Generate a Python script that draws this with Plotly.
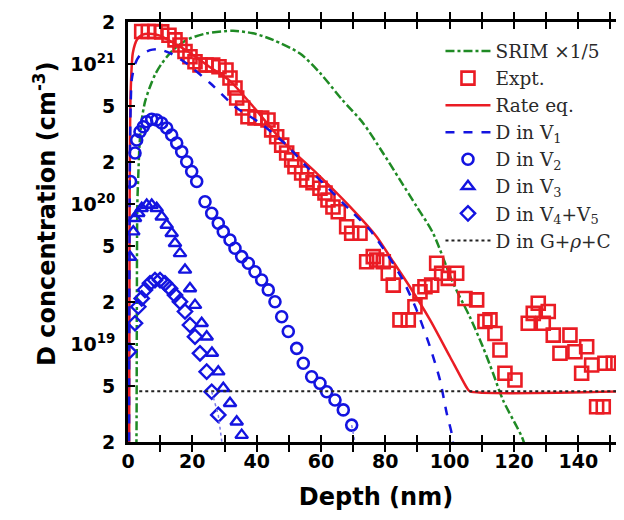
import plotly.graph_objects as go

# ---------------- data ----------------
srim_x = [2.3, 2.6, 2.75, 2.9, 3.2, 3.6, 4.26, 5.3, 6.84, 8.5, 10.48, 13.99, 18.25, 24.46,
          32.64, 38.86, 45.07, 53.47, 59.68, 66.5, 73.05, 79.27, 84.55, 89.84, 94.81,
          101.03, 106.31, 110.35, 113.46, 116.57, 120.92, 122.47, 123.7]
srim_y = [1.0e18, 1.8e18, 2.0e19, 1.0e20, 1.6e20, 2.7e20, 3.99e20, 5.4e20, 6.9e20, 8.5e20,
          1.01e21, 1.26e21, 1.49e21, 1.66e21, 1.73e21, 1.66e21, 1.49e21, 1.19e21, 8.65e20,
          5.6e20, 3.8e20, 2.32e20, 1.49e20, 9.54e19, 6.22e19, 2.74e19, 1.56e19, 9.54e18,
          6.22e18, 3.99e18, 2.56e18, 2.17e18, 1.8e18]

expt_x = [4.26, 6.31, 8.39, 10.48, 12.74, 14.61, 16.16, 17.72, 19.27, 20.83, 22.38, 24.25,
          26.33, 28.29, 30.46, 31.71, 33.26, 33.79, 35.65, 37.30, 39.48, 41.56, 43.52, 44.67,
          46.22, 47.78, 49.33, 50.89, 51.91, 53.99, 55.55, 57.51, 59.68, 61.24, 62.17, 63.72,
          65.37, 67.98, 69.54, 72.12, 74.20, 76.25, 77.31, 79.36, 80.91, 82.47, 84.55, 87.13,
          89.21, 90.77, 92.32, 94.40, 95.96, 97.51, 99.57, 102.18, 104.76, 108.39, 110.97,
          112.53, 114.08, 115.64, 117.19, 120.30, 124.43, 125.99, 127.54, 129.10, 130.65,
          132.21, 134.29, 137.40, 138.95, 141.03, 142.59, 144.14, 145.69, 147.75, 148.27,
          150.86, 153.47]
expt_y = [1.71e21, 1.71e21, 1.71e21, 1.70e21, 1.61e21, 1.49e21, 1.37e21, 1.23e21, 1.13e21,
          1.04e21, 9.86e20, 9.86e20, 9.86e20, 9.59e20, 9.08e20, 7.96e20, 6.76e20, 5.73e20,
          4.86e20, 4.21e20, 4.12e20, 4.12e20, 3.99e20, 3.39e20, 3.03e20, 2.64e20, 2.32e20,
          2.07e20, 1.85e20, 1.67e20, 1.49e20, 1.42e20, 1.30e20, 1.20e20, 1.07e20, 9.54e19,
          8.83e19, 6.9e19, 6.19e19, 6.19e19, 3.88e19, 4.22e19, 3.99e19, 3.88e19, 3.21e19,
          2.64e19, 1.49e19, 1.49e19, 1.85e19, 2.37e19, 2.57e19, 2.64e19, 3.78e19, 3.21e19,
          2.95e19, 3.21e19, 2.12e19, 2.07e19, 1.45e19, 1.49e19, 1.19e19, 9.08e18, 6.19e18,
          5.54e18, 1.41e19, 1.66e19, 1.96e19, 1.41e19, 1.71e19, 1.16e19, 8.6e18, 1.16e19,
          8.83e18, 6.19e18, 9.59e18, 7.1e18, 3.57e18, 3.57e18, 7.3e18, 7.3e18, 7.3e18]

rate_x = [0.35, 0.5, 0.8, 1.5, 2.8, 4.35, 6.8, 9.9, 14.6, 19.3, 25.5, 31.7, 37.9, 48.2,
          58.7, 69.0, 77.3, 81.4, 87.6, 93.9, 100.1, 105.3, 106.3, 154.2]
rate_y = [1.5e18, 1.0e20, 6.0e20, 1.2e21, 1.5e21, 1.62e21, 1.65e21, 1.6e21, 1.4e21,
          1.2e21, 9.5e20, 7.6e20, 5.3e20, 2.79e20, 1.66e20, 9.6e19, 5.85e19, 4.22e19,
          2.57e19, 1.49e19, 8.13e18, 4.9e18, 4.6e18, 4.6e18]

v1_x = [0.31, 0.62, 1.15, 2.18, 3.73, 6.84, 9.33, 13.06, 18.25, 25.49, 33.26, 41.03, 49.33,
        55.55, 61.77, 69.94, 75.23, 80.42, 85.48, 89.74, 93.88, 96.99, 99.07, 100.6, 101.3]
v1_y = [1.5e18, 2.47e20, 7.7e20, 1.0e21, 1.16e21, 1.26e21, 1.28e21, 1.2e21, 1.01e21,
        7.33e20, 4.97e20, 3.8e20, 2.64e20, 1.85e20, 1.33e20, 8.65e19, 6.53e19, 4.45e19,
        2.87e19, 1.75e19, 9.59e18, 5.54e18, 3.22e18, 2.32e18, 1.75e18]

v2_x = [0.8, 2.18, 2.7, 3.73, 4.76, 5.81, 7.37, 8.92, 10.48, 12.03, 13.58, 15.14, 16.69,
        18.25, 19.8, 21.36, 23.94, 26.02, 28.07, 29.62, 31.71, 33.26, 35.34, 37.4, 39.48,
        41.56, 43.61, 45.69, 47.78, 49.83, 52.44, 54.49, 57.1, 59.68, 61.77, 64.35, 66.93,
        69.54]
v2_y = [1.45e20, 2.32e20, 2.87e20, 3.29e20, 3.57e20, 3.88e20, 4.04e20, 3.99e20, 3.8e20,
        3.5e20, 3.12e20, 2.73e20, 2.37e20, 2.01e20, 1.71e20, 1.45e20, 1.04e20, 8.6e19,
        7.3e19, 6.36e19, 5.54e19, 4.84e19, 4.22e19, 3.78e19, 3.29e19, 2.87e19, 2.44e19,
        2.01e19, 1.57e19, 1.23e19, 9.33e18, 7.3e18, 5.85e18, 5.25e18, 4.57e18, 3.99e18,
        3.39e18, 2.64e18]

v3_x = [0.62, 1.65, 2.18, 3.2, 4.26, 5.81, 7.37, 8.92, 10.48, 12.03, 13.58, 14.61, 16.16,
        17.72, 19.27, 20.83, 22.91, 24.46, 26.1, 28.07, 29.62, 31.71, 33.79, 35.34]
v3_y = [4.19e19, 6.36e19, 7.92e19, 8.6e19, 9.34e19, 9.86e19, 9.86e19, 9.34e19, 8.13e19,
        7.1e19, 6.19e19, 5.25e19, 4.45e19, 3.39e19, 2.5e19, 1.9e19, 1.41e19, 1.13e19,
        8.65e18, 6.36e18, 4.84e18, 3.78e18, 2.79e18, 2.24e18]

v45_x = [0.3, 2.18, 3.2, 4.26, 5.28, 6.84, 8.39, 9.95, 11.5, 13.06, 14.61, 16.16, 17.72,
         19.27, 20.83, 22.38, 24.46, 26.02, 28.07]
v45_y = [8.83e18, 1.41e19, 1.85e19, 2.12e19, 2.44e19, 2.72e19, 2.87e19, 2.87e19, 2.72e19,
         2.5e19, 2.24e19, 2.01e19, 1.71e19, 1.37e19, 1.13e19, 8.6e18, 6.36e18, 4.57e18,
         3.12e18]

v2_tail_x = [69.54, 70.7]
v2_tail_y = [2.64e18, 1.9e18]
v45_tail_x = [26.02, 28.07, 29.3]
v45_tail_y = [4.57e18, 3.12e18, 1.9e18]

g_x = [3.5, 154.2]
g_y = [4.6e18, 4.6e18]

x_tickvals = [0, 10, 20, 30, 40, 50, 60, 70, 80, 90, 100, 110, 120, 130, 140, 150]
x_ticktext = ["0", "", "20", "", "40", "", "60", "", "80", "", "100", "", "120", "", "140", ""]
y_tickvals = [2e18, 5e18, 1e19, 2e19, 5e19, 1e20, 2e20, 5e20, 1e21, 2e21]
y_ticktext = ["2", "5", "10<sup>19</sup>", "2", "5", "10<sup>20</sup>", "2", "5",
              "10<sup>21</sup>", "2"]

# ---------------- styles ----------------
RED = "#ea1c24"
BLUE = "#1414e0"
GREEN = "#1f8a24"
SANS = "DejaVu Sans, Liberation Sans, Arial, sans-serif"
SERIF = "DejaVu Serif, serif"
Y_RANGE = [18.30103, 21.30103]

fig = go.Figure()
fig.add_trace(go.Scatter(x=srim_x, y=srim_y, mode="lines", name="SRIM ×1/5",
                         line=dict(color=GREEN, width=2.5, dash="dashdot", shape="spline",
                                   smoothing=0.8)))
fig.add_trace(go.Scatter(x=expt_x, y=expt_y, mode="markers", name="Expt.",
                         marker=dict(symbol="square-open", size=13, color=RED,
                                     line=dict(width=2.6, color=RED))))
fig.add_trace(go.Scatter(x=rate_x, y=rate_y, mode="lines", name="Rate eq.",
                         line=dict(color=RED, width=2.5, shape="spline", smoothing=0.6)))
fig.add_trace(go.Scatter(x=v1_x, y=v1_y, mode="lines", name="D in V<sub>1</sub>",
                         line=dict(color=BLUE, width=2.5, dash="dash", shape="spline",
                                   smoothing=0.6)))
fig.add_trace(go.Scatter(x=v2_x, y=v2_y, mode="markers", name="D in V<sub>2</sub>",
                         marker=dict(symbol="circle-open", size=11, color=BLUE,
                                     line=dict(width=2.6, color=BLUE))))
fig.add_trace(go.Scatter(x=v3_x, y=v3_y, mode="markers", name="D in V<sub>3</sub>",
                         marker=dict(symbol="triangle-up-open", size=11, color=BLUE,
                                     line=dict(width=2.4, color=BLUE))))
fig.add_trace(go.Scatter(x=v45_x, y=v45_y, mode="markers", name="D in V<sub>4</sub>+V<sub>5</sub>",
                         marker=dict(symbol="diamond-open", size=11, color=BLUE,
                                     line=dict(width=2.4, color=BLUE))))
fig.add_trace(go.Scatter(x=g_x, y=g_y, mode="lines", name="D in G+<i>ρ</i>+C",
                         line=dict(color="#222222", width=2, dash="dot")))
fig.add_trace(go.Scatter(x=v2_tail_x, y=v2_tail_y, mode="lines", showlegend=False,
                         line=dict(color="#7a7ae8", width=1.5, dash="dot")))
fig.add_trace(go.Scatter(x=v45_tail_x, y=v45_tail_y, mode="lines", showlegend=False,
                         line=dict(color="#7a7ae8", width=1.5, dash="dot")))
# empty trace so that the label-only overlay axis y2 gets drawn
fig.add_trace(go.Scatter(x=[], y=[], yaxis="y2", mode="markers", showlegend=False,
                         hoverinfo="skip"))

# the page body adds an 8px offset; margins compensate so the plot area sits at
# x 128..624, y 22..442 of the window
fig.update_layout(
    width=616, height=512,
    margin=dict(l=120, r=0, t=14, b=78),
    plot_bgcolor="white", paper_bgcolor="white",
    font=dict(family=SANS, color="black"),
    legend=dict(x=0.63, y=0.975, xanchor="left", yanchor="top", itemwidth=45,
                bgcolor="rgba(255,255,255,0)", borderwidth=0, tracegroupgap=0,
                font=dict(family=SERIF, size=18.5, color="#2a2a2a")),
    annotations=[dict(text="<b>D concentration (cm<sup>-3</sup>)</b>", textangle=-90,
                      xref="paper", yref="paper", x=-0.167, y=0.543,
                      xanchor="center", yanchor="middle",
                      showarrow=False, font=dict(family=SANS, size=24, color="black"))],
    # label-only overlay axis: invisible outside ticks push the labels away from the line
    yaxis2=dict(overlaying="y", side="left", anchor="x", type="log", range=Y_RANGE,
                tickmode="array", tickvals=y_tickvals, ticktext=y_ticktext,
                ticks="outside", ticklen=8, tickcolor="rgba(0,0,0,0)",
                tickfont=dict(family=SANS, size=19, weight="bold", color="black"),
                showline=False, showgrid=False, zeroline=False, fixedrange=True),
)
fig.update_xaxes(range=[0, 154.2], showline=True, linewidth=2.5, linecolor="black",
                 mirror="allticks", ticks="inside", ticklen=7, tickwidth=2,
                 tickcolor="black", tickvals=x_tickvals, ticktext=x_ticktext,
                 tickfont=dict(family=SANS, size=19, weight="bold"),
                 showgrid=False, zeroline=False,
                 title=dict(text="<b>Depth (nm)</b>", font=dict(family=SANS, size=24),
                            standoff=18))
fig.update_layout(yaxis=dict(type="log", range=Y_RANGE, showline=True, linewidth=2.5,
                             linecolor="black", mirror=False, ticks="inside", ticklen=7,
                             tickwidth=2, tickcolor="black", tickvals=y_tickvals,
                             showticklabels=False, showgrid=False, zeroline=False))

fig.write_html("out.html")
